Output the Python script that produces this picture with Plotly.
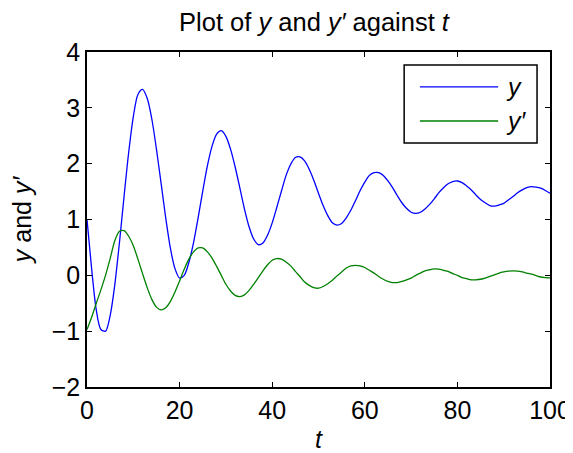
import plotly.graph_objects as go

t = list(range(0, 101))

y_vals = [
    1.00, 0.12, -0.62, -0.97, -1.00, -0.72, -0.17, 0.58, 1.41, 2.20,
    2.84, 3.24, 3.33, 3.17, 2.80, 2.26, 1.65, 1.03, 0.49, 0.12,
    -0.05, 0.00, 0.23, 0.58, 1.03, 1.51, 1.96, 2.31, 2.53, 2.59,
    2.49, 2.26, 1.94, 1.57, 1.19, 0.87, 0.65, 0.55, 0.58, 0.72,
    0.94, 1.22, 1.51, 1.79, 1.99, 2.11, 2.12, 2.05, 1.90, 1.70,
    1.47, 1.25, 1.07, 0.94, 0.90, 0.93, 1.03, 1.17, 1.34, 1.52,
    1.67, 1.79, 1.84, 1.84, 1.79, 1.69, 1.57, 1.43, 1.30, 1.20,
    1.13, 1.11, 1.13, 1.19, 1.27, 1.37, 1.48, 1.57, 1.64, 1.68,
    1.69, 1.66, 1.60, 1.53, 1.44, 1.36, 1.30, 1.25, 1.24, 1.26,
    1.29, 1.35, 1.41, 1.48, 1.53, 1.57, 1.59, 1.58, 1.56, 1.52,
    1.47,
]

yp_vals = [
    -0.97, -0.75, -0.50, -0.26, 0.00, 0.30, 0.62, 0.79, 0.80, 0.70,
    0.53, 0.29, 0.03, -0.22, -0.43, -0.57, -0.62, -0.58, -0.47, -0.30,
    -0.10, 0.11, 0.29, 0.42, 0.49, 0.49, 0.42, 0.31, 0.16, 0.00,
    -0.16, -0.28, -0.36, -0.38, -0.35, -0.27, -0.16, -0.04, 0.08, 0.19,
    0.27, 0.30, 0.29, 0.24, 0.17, 0.07, -0.02, -0.12, -0.18, -0.22,
    -0.23, -0.20, -0.15, -0.09, -0.01, 0.06, 0.13, 0.17, 0.18, 0.17,
    0.14, 0.09, 0.04, -0.02, -0.07, -0.11, -0.13, -0.13, -0.11, -0.08,
    -0.05, 0.00, 0.04, 0.08, 0.10, 0.115, 0.11, 0.09, 0.07, 0.03,
    0.00, -0.04, -0.06, -0.08, -0.08, -0.07, -0.05, -0.02, 0.01, 0.04,
    0.06, 0.075, 0.08, 0.075, 0.06, 0.04, 0.02, -0.005, -0.03, -0.04,
    -0.045,
]

x_ticks = [0, 20, 40, 60, 80, 100]
y_ticks = [-2, -1, 0, 1, 2, 3, 4]
series_names = ["<i>y</i>", "<i>y′</i>"]
series_colors = ["#0000ff", "#008000"]

FONT = "Liberation Sans, Arial, Helvetica, sans-serif"
FS = 25

fig = go.Figure()
fig.add_trace(go.Scatter(x=t, y=y_vals, mode="lines", name="y",
                         line=dict(color=series_colors[0], width=1.3, shape="spline", smoothing=0.8),
                         showlegend=False))
fig.add_trace(go.Scatter(x=t, y=yp_vals, mode="lines", name="y'",
                         line=dict(color=series_colors[1], width=1.3, shape="spline", smoothing=0.8),
                         showlegend=False))

axis_common = dict(
    showgrid=False, zeroline=False, showline=True, linecolor="black", linewidth=1.5,
    mirror="ticks", ticks="inside", ticklen=5, tickwidth=1, tickcolor="black",
    tickfont=dict(family=FONT, size=FS, color="black"), automargin=False,
)

fig.update_xaxes(range=[0, 100], tickvals=x_ticks, **axis_common,
                 title=dict(text="<i>t</i>", font=dict(family=FONT, size=FS, color="black"), standoff=9))
fig.update_yaxes(range=[-2, 4], tickvals=y_ticks, **axis_common,
                 title=dict(text="<i>y</i> and <i>y′</i>", font=dict(family=FONT, size=FS, color="black"), standoff=14))

# legend drawn in paper coordinates
lx0, lx1, ly0, ly1 = 0.685, 0.972, 0.728, 0.961
shapes = [dict(type="rect", xref="paper", yref="paper", x0=lx0, x1=lx1, y0=ly0, y1=ly1,
               line=dict(color="black", width=1.5), fillcolor="white", layer="above")]
annotations = []
for i, (nm, col) in enumerate(zip(series_names, series_colors)):
    yy = 0.896 - i * 0.102
    shapes.append(dict(type="line", xref="paper", yref="paper", x0=0.719, x1=0.888, y0=yy, y1=yy,
                       line=dict(color=col, width=1.3), layer="above"))
    annotations.append(dict(xref="paper", yref="paper", x=0.900, y=yy, text=nm, showarrow=False,
                            xanchor="left", yanchor="middle",
                            font=dict(family=FONT, size=FS, color="black")))

# the page body adds an 8 px margin, so the figure is 8 px smaller on each side
fig.update_layout(
    width=565, height=445,
    margin=dict(l=79, r=23, t=44, b=66, autoexpand=False),
    paper_bgcolor="white", plot_bgcolor="white",
    font=dict(family=FONT, size=FS, color="black"),
    title=dict(text="Plot of <i>y</i> and <i>y′</i> against <i>t</i>", x=0.5416, xanchor="center",
               y=0.9685, yanchor="middle", yref="container",
               font=dict(family=FONT, size=25.5, color="black")),
    shapes=shapes, annotations=annotations,
)

fig.write_html("out.html")
